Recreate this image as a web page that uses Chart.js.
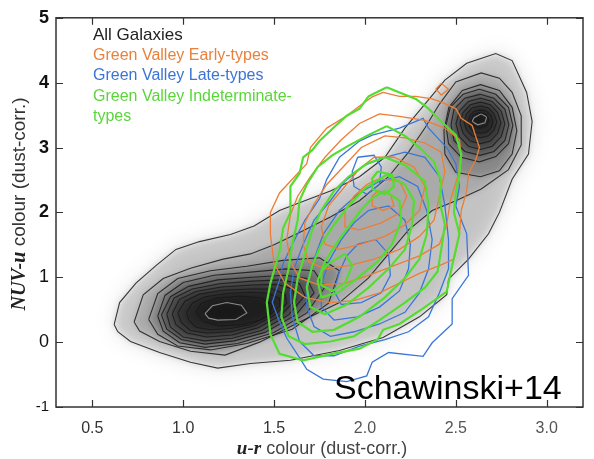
<!DOCTYPE html>
<html>
<head>
<meta charset="utf-8">
<script src="https://cdn.jsdelivr.net/npm/chart.js@4.4.1/dist/chart.umd.min.js"></script>
<style>
  html, body { margin: 0; padding: 0; background: #fff; }
</style>
</head>
<body>
<canvas id="chart" width="594" height="459"></canvas>
<script>
const xTicks = [0.5, 1.0, 1.5, 2.0, 2.5, 3.0];
const xTickLabels = ['0.5', '1.0', '1.5', '2.0', '2.5', '3.0'];
const yTicks = [-1, 0, 1, 2, 3, 4, 5];

const legendLines = [
    ['All Galaxies', '#222222'],
    ['Green Valley Early-types', '#e9803c'],
    ['Green Valley Late-types', '#3c74d6'],
    ['Green Valley Indeterminate-', '#5ad63a'],
    ['types', '#5ad63a'],
];

// all galaxies: shared envelopes, blue-cloud rings, red-sequence rings
const allGalaxyLevels = [
    [[0.62,0.27],[0.65,0.61],[0.74,0.91],[0.85,1.18],[0.96,1.43],[1.09,1.55],[1.26,1.66],[1.39,1.79],[1.53,2.03],[1.64,2.15],[1.81,2.33],[1.97,2.55],[2.11,2.85],[2.22,3.30],[2.33,3.67],[2.44,4.04],[2.56,4.30],[2.72,4.45],[2.81,4.34],[2.89,3.85],[2.92,3.40],[2.90,2.90],[2.81,2.51],[2.74,2.00],[2.68,1.67],[2.57,1.28],[2.46,0.97],[2.45,0.73],[2.30,0.39],[2.10,0.07],[1.86,-0.13],[1.59,-0.28],[1.37,-0.33],[1.19,-0.40],[1.04,-0.31],[0.87,-0.16],[0.71,0.01],[0.64,0.16]],
    [[0.73,0.31],[0.78,0.73],[0.89,0.98],[1.04,1.14],[1.22,1.28],[1.37,1.36],[1.50,1.50],[1.64,1.69],[1.81,1.93],[1.97,2.18],[2.13,2.55],[2.24,2.93],[2.33,3.30],[2.41,3.67],[2.50,4.01],[2.64,4.15],[2.74,4.07],[2.81,3.85],[2.86,3.49],[2.86,3.04],[2.79,2.66],[2.64,2.36],[2.50,2.18],[2.37,2.03],[2.24,1.73],[2.13,1.36],[2.02,0.99],[1.86,0.61],[1.64,0.31],[1.42,0.00],[1.23,-0.20],[1.04,-0.14],[0.87,0.01],[0.76,0.17]],
    [[0.81,0.35],[0.86,0.75],[0.97,0.98],[1.15,1.10],[1.35,1.17],[1.55,1.26],[1.75,1.30],[1.86,1.10],[1.80,0.60],[1.60,0.20],[1.35,-0.02],[1.15,-0.12],[0.97,-0.06],[0.86,0.12]],
    [[0.86,0.40],[0.90,0.72],[1.00,0.92],[1.17,1.03],[1.37,1.08],[1.57,1.13],[1.72,1.10],[1.78,0.85],[1.68,0.45],[1.50,0.15],[1.30,-0.02],[1.12,-0.08],[0.98,-0.01],[0.89,0.17]],
    [[0.88,0.42],[0.93,0.70],[1.03,0.86],[1.19,0.96],[1.38,1.00],[1.56,1.03],[1.68,0.98],[1.72,0.76],[1.62,0.42],[1.45,0.15],[1.28,0.02],[1.12,-0.03],[0.99,0.04],[0.91,0.20]],
    [[0.91,0.43],[0.95,0.68],[1.05,0.82],[1.20,0.90],[1.38,0.94],[1.54,0.96],[1.64,0.90],[1.67,0.72],[1.58,0.42],[1.43,0.18],[1.27,0.06],[1.12,0.02],[1.00,0.08],[0.93,0.23]],
    [[0.94,0.44],[0.98,0.66],[1.07,0.78],[1.21,0.85],[1.38,0.88],[1.52,0.89],[1.60,0.82],[1.62,0.66],[1.54,0.42],[1.41,0.22],[1.27,0.11],[1.13,0.08],[1.02,0.14],[0.96,0.27]],
    [[0.97,0.45],[1.01,0.63],[1.09,0.74],[1.22,0.80],[1.37,0.82],[1.49,0.82],[1.56,0.74],[1.57,0.60],[1.50,0.41],[1.39,0.25],[1.26,0.16],[1.13,0.14],[1.04,0.18],[0.99,0.30]],
    [[1.02,0.46],[1.05,0.60],[1.12,0.70],[1.24,0.75],[1.37,0.77],[1.47,0.75],[1.53,0.67],[1.53,0.55],[1.47,0.40],[1.37,0.27],[1.26,0.21],[1.15,0.19],[1.07,0.23],[1.03,0.34]],
    [[1.07,0.47],[1.10,0.60],[1.19,0.68],[1.32,0.71],[1.43,0.68],[1.49,0.58],[1.48,0.45],[1.42,0.34],[1.32,0.27],[1.20,0.25],[1.11,0.32]],
    [[1.12,0.44],[1.16,0.56],[1.24,0.61],[1.32,0.57],[1.35,0.45],[1.29,0.35],[1.19,0.34],[1.14,0.37]],
    [[2.636,3.97],[2.74,3.88],[2.81,3.62],[2.836,3.26],[2.81,2.90],[2.74,2.64],[2.636,2.55],[2.50,2.62],[2.44,2.90],[2.435,3.26],[2.462,3.62],[2.536,3.88]],
    [[2.63,3.90],[2.72,3.82],[2.79,3.62],[2.814,3.34],[2.79,3.06],[2.72,2.86],[2.63,2.78],[2.53,2.85],[2.46,3.06],[2.446,3.34],[2.47,3.62],[2.54,3.82]],
    [[2.633,3.82],[2.71,3.76],[2.77,3.59],[2.792,3.35],[2.77,3.11],[2.71,2.94],[2.633,2.88],[2.55,2.94],[2.49,3.11],[2.474,3.35],[2.49,3.59],[2.55,3.76]],
    [[2.636,3.76],[2.70,3.71],[2.75,3.56],[2.77,3.365],[2.75,3.17],[2.70,3.02],[2.636,2.97],[2.57,3.02],[2.52,3.17],[2.501,3.365],[2.52,3.56],[2.57,3.71]],
    [[2.636,3.70],[2.69,3.66],[2.73,3.54],[2.748,3.38],[2.73,3.22],[2.69,3.10],[2.636,3.06],[2.58,3.10],[2.54,3.22],[2.523,3.38],[2.54,3.54],[2.58,3.66]],
    [[2.636,3.64],[2.68,3.61],[2.71,3.52],[2.726,3.395],[2.71,3.27],[2.68,3.18],[2.636,3.15],[2.59,3.18],[2.56,3.27],[2.545,3.395],[2.56,3.52],[2.59,3.61]],
    [[2.636,3.58],[2.67,3.56],[2.695,3.49],[2.704,3.40],[2.695,3.31],[2.67,3.24],[2.636,3.22],[2.60,3.24],[2.577,3.31],[2.567,3.40],[2.577,3.49],[2.60,3.56]],
    [[2.633,3.54],[2.668,3.505],[2.682,3.42],[2.668,3.335],[2.633,3.30],[2.598,3.335],[2.583,3.42],[2.598,3.505]],
    [[2.60,3.46],[2.64,3.52],[2.67,3.47],[2.66,3.38],[2.62,3.35],[2.59,3.40]],
];
const paleRings = [10, 19];

const earlyTypeLevels = [
    [[2.10,3.85],[2.19,3.79],[2.28,3.79],[2.37,3.75],[2.42,3.70],[2.50,3.60],[2.53,3.45],[2.59,3.34],[2.63,3.00],[2.61,2.81],[2.57,2.60],[2.56,2.33],[2.53,2.03],[2.52,1.66],[2.49,1.28],[2.41,1.18],[2.30,1.06],[2.19,0.91],[2.08,0.76],[1.94,0.64],[1.81,0.61],[1.67,0.69],[1.56,0.91],[1.50,1.21],[1.48,1.66],[1.48,2.00],[1.53,2.30],[1.60,2.51],[1.68,2.75],[1.70,3.00],[1.79,3.30],[1.90,3.49],[1.97,3.64],[2.04,3.78]],
    [[2.08,3.52],[2.19,3.48],[2.33,3.42],[2.44,3.30],[2.52,3.12],[2.53,2.85],[2.51,2.55],[2.47,2.18],[2.45,1.81],[2.41,1.51],[2.30,1.33],[2.16,1.18],[2.02,1.03],[1.89,0.91],[1.75,0.88],[1.64,0.99],[1.59,1.24],[1.57,1.58],[1.59,1.96],[1.63,2.25],[1.70,2.55],[1.78,2.85],[1.87,3.12],[1.97,3.37]],
    [[2.11,3.18],[2.22,3.15],[2.33,3.07],[2.42,2.93],[2.44,2.63],[2.41,2.25],[2.38,1.88],[2.30,1.63],[2.19,1.43],[2.05,1.28],[1.91,1.18],[1.78,1.13],[1.69,1.24],[1.66,1.51],[1.67,1.84],[1.72,2.13],[1.79,2.43],[1.89,2.73],[1.98,3.00]],
    [[2.05,2.85],[2.16,2.85],[2.27,2.70],[2.33,2.40],[2.30,2.03],[2.22,1.81],[2.11,1.63],[1.98,1.51],[1.86,1.43],[1.78,1.51],[1.76,1.78],[1.80,2.10],[1.89,2.40],[1.97,2.67]],
    [[2.08,2.52],[2.19,2.48],[2.23,2.25],[2.19,1.99],[2.09,1.84],[1.97,1.73],[1.89,1.78],[1.89,2.03],[1.94,2.25],[2.01,2.43]],
    [[2.07,2.33],[2.14,2.28],[2.16,2.10],[2.10,2.03],[2.04,2.10],[2.04,2.25]],
    [[2.39,3.90],[2.42,3.99],[2.46,3.90],[2.42,3.81]],
];

const lateTypeLevels = [
    [[2.04,3.19],[2.12,3.25],[2.19,3.30],[2.32,3.45],[2.35,3.30],[2.45,3.00],[2.50,2.75],[2.52,2.40],[2.50,2.10],[2.56,1.67],[2.57,1.03],[2.48,0.67],[2.48,0.28],[2.37,-0.01],[2.32,-0.22],[2.13,-0.16],[2.04,-0.31],[2.01,-0.52],[1.90,-0.61],[1.77,-0.57],[1.68,-0.42],[1.64,-0.24],[1.57,0.06],[1.53,0.31],[1.49,0.61],[1.53,0.96],[1.55,1.21],[1.60,1.51],[1.67,1.88],[1.75,2.21],[1.79,2.51],[1.86,2.85],[1.97,3.10]],
    [[2.11,2.85],[2.22,2.93],[2.33,2.85],[2.41,2.55],[2.44,2.10],[2.46,1.58],[2.46,1.13],[2.41,0.76],[2.35,0.39],[2.24,0.16],[2.11,0.04],[1.97,-0.06],[1.83,-0.21],[1.72,-0.21],[1.64,0.01],[1.60,0.39],[1.59,0.76],[1.61,1.13],[1.66,1.51],[1.72,1.88],[1.81,2.18],[1.89,2.48],[2.00,2.73]],
    [[2.08,2.48],[2.19,2.55],[2.29,2.40],[2.34,2.03],[2.37,1.58],[2.35,1.13],[2.30,0.76],[2.22,0.46],[2.08,0.28],[1.94,0.16],[1.81,0.09],[1.72,0.24],[1.68,0.54],[1.68,0.91],[1.72,1.28],[1.77,1.66],[1.86,2.03],[1.96,2.28]],
    [[2.02,2.03],[2.13,2.10],[2.22,1.88],[2.25,1.51],[2.24,1.13],[2.19,0.79],[2.08,0.54],[1.96,0.39],[1.83,0.34],[1.76,0.54],[1.76,0.88],[1.80,1.24],[1.87,1.58],[1.94,1.84]],
    [[1.96,1.51],[2.06,1.58],[2.13,1.36],[2.14,1.03],[2.09,0.76],[1.98,0.61],[1.87,0.58],[1.83,0.79],[1.86,1.09],[1.90,1.33]],
    [[1.96,2.85],[2.05,2.88],[2.09,2.70],[2.08,2.43],[2.01,2.28],[1.94,2.40],[1.93,2.63]],
];

const indeterminateLevels = [
    [[2.12,3.93],[2.19,3.85],[2.28,3.75],[2.35,3.60],[2.42,3.40],[2.50,3.19],[2.53,2.90],[2.52,2.60],[2.50,2.30],[2.49,2.00],[2.52,1.67],[2.48,1.18],[2.45,0.78],[2.32,0.52],[2.19,0.28],[2.10,0.19],[2.07,0.04],[1.97,-0.10],[1.82,-0.18],[1.66,-0.28],[1.53,-0.18],[1.48,0.12],[1.46,0.61],[1.48,0.91],[1.53,1.40],[1.55,1.76],[1.59,2.00],[1.59,2.40],[1.64,2.60],[1.66,2.85],[1.71,2.96],[1.75,3.10],[1.84,3.34],[1.90,3.49],[1.97,3.60],[2.02,3.79]],
    [[2.12,3.33],[2.22,3.18],[2.30,3.00],[2.38,2.78],[2.42,2.48],[2.41,2.18],[2.44,1.81],[2.42,1.43],[2.40,1.09],[2.33,0.84],[2.22,0.61],[2.08,0.34],[1.94,0.09],[1.81,0.01],[1.67,-0.03],[1.58,0.09],[1.54,0.39],[1.55,0.76],[1.58,1.13],[1.60,1.51],[1.63,1.88],[1.64,2.18],[1.68,2.43],[1.74,2.70],[1.82,2.88],[1.91,3.03],[2.01,3.18]],
    [[2.11,2.85],[2.22,2.73],[2.33,2.48],[2.35,2.10],[2.34,1.66],[2.30,1.28],[2.22,0.99],[2.11,0.69],[1.97,0.39],[1.83,0.19],[1.71,0.16],[1.63,0.31],[1.61,0.61],[1.63,0.99],[1.67,1.36],[1.71,1.73],[1.76,2.03],[1.83,2.33],[1.91,2.55],[2.01,2.75]],
    [[2.12,2.58],[2.22,2.43],[2.27,2.18],[2.26,1.81],[2.22,1.43],[2.13,1.13],[2.02,0.84],[1.90,0.58],[1.78,0.43],[1.70,0.54],[1.68,0.84],[1.71,1.18],[1.76,1.51],[1.83,1.81],[1.91,2.10],[2.00,2.37]],
    [[2.11,2.33],[2.19,2.18],[2.20,1.88],[2.15,1.51],[2.07,1.24],[1.96,0.99],[1.85,0.76],[1.76,0.69],[1.74,0.94],[1.78,1.24],[1.84,1.51],[1.91,1.78],[1.98,2.04],[2.04,2.22]],
    [[1.80,1.21],[1.89,1.36],[1.93,1.18],[1.89,0.91],[1.82,0.79],[1.76,0.88],[1.76,1.09]],
    [[2.07,2.63],[2.15,2.58],[2.16,2.40],[2.11,2.28],[2.04,2.36],[2.04,2.52]],
];

function closed(points) {
    const d = points.map(([x, y]) => ({ x, y }));
    d.push(d[0]);
    return d;
}

function contourSet(levels, color, width, order) {
    return levels.map((ring, i) => ({
        data: closed(ring),
        showLine: true,
        borderColor: typeof color === 'function' ? color(i) : color,
        borderWidth: width,
        pointRadius: 0,
        tension: 0,
        fill: false,
        order: order,
    }));
}

function tracePath(ctx, ring, x, y) {
    ctx.beginPath();
    ring.forEach(([vx, vy], j) => {
        const px = x.getPixelForValue(vx);
        const py = y.getPixelForValue(vy);
        if (j === 0) ctx.moveTo(px, py); else ctx.lineTo(px, py);
    });
    ctx.closePath();
}

// grey density shading under the black contours
const shadePlugin = {
    id: 'shade',
    beforeDatasetsDraw(chart) {
        const { ctx, chartArea: a, scales: { x, y } } = chart;
        ctx.save();
        ctx.beginPath();
        ctx.rect(a.left, a.top, a.width, a.height);
        ctx.clip();
        ctx.filter = 'blur(10px)';
        tracePath(ctx, allGalaxyLevels[0], x, y);
        ctx.fillStyle = 'rgba(0,0,0,0.12)';
        ctx.fill();
        ctx.filter = 'blur(3px)';
        allGalaxyLevels.forEach((ring, i) => {
            tracePath(ctx, ring, x, y);
            ctx.fillStyle = `rgba(0,0,0,${i < 2 ? 0.13 : 0.2})`;
            ctx.fill();
        });
        ctx.restore();
    },
};

// frame, inward ticks, axis titles, key and credit
const decorPlugin = {
    id: 'decor',
    afterDraw(chart) {
        const { ctx, chartArea: a, scales: { x, y } } = chart;
        ctx.save();
        ctx.strokeStyle = '#333';
        ctx.lineWidth = 1.5;
        ctx.strokeRect(a.left, a.top, a.width, a.height);
        ctx.lineWidth = 1.2;
        ctx.beginPath();
        xTicks.forEach(v => {
            const px = Math.round(x.getPixelForValue(v)) + 0.5;
            ctx.moveTo(px, a.bottom); ctx.lineTo(px, a.bottom - 7);
            ctx.moveTo(px, a.top); ctx.lineTo(px, a.top + 7);
        });
        yTicks.forEach(v => {
            const py = Math.round(y.getPixelForValue(v)) + 0.5;
            ctx.moveTo(a.left, py); ctx.lineTo(a.left + 7, py);
            ctx.moveTo(a.right, py); ctx.lineTo(a.right - 7, py);
        });
        ctx.stroke();

        // x title
        const serif = 'italic bold 19px "Liberation Serif", "DejaVu Serif", serif';
        const sans = '18px "Liberation Sans", Arial, sans-serif';
        ctx.textBaseline = 'alphabetic';
        ctx.textAlign = 'left';
        ctx.font = serif;
        const w1 = ctx.measureText('u-r').width;
        ctx.font = sans;
        const w2 = ctx.measureText(' colour (dust-corr.)').width;
        const sx = 322 - (w1 + w2) / 2;
        ctx.font = serif; ctx.fillStyle = '#222';
        ctx.fillText('u-r', sx, 454);
        ctx.font = sans; ctx.fillStyle = '#444';
        ctx.fillText(' colour (dust-corr.)', sx + w1, 454);

        // y title
        const ySerif = 'italic bold 20px "Liberation Serif", "DejaVu Serif", serif';
        const ySans = '19px "Liberation Sans", Arial, sans-serif';
        ctx.font = ySerif;
        const h1 = ctx.measureText('NUV-u').width;
        ctx.font = ySans;
        const h2 = ctx.measureText(' colour (dust-corr.)').width;
        ctx.translate(25, 204 + (h1 + h2) / 2);
        ctx.rotate(-Math.PI / 2);
        ctx.font = ySerif; ctx.fillStyle = '#222';
        ctx.fillText('NUV-u', 0, 0);
        ctx.font = ySans; ctx.fillStyle = '#333';
        ctx.fillText(' colour (dust-corr.)', h1, 0);
        ctx.setTransform(1, 0, 0, 1, 0, 0);

        // key
        legendLines.forEach(([text, color], i) => {
            ctx.font = (i === 0 ? '17px' : '16px') + ' "Liberation Sans", Arial, sans-serif';
            ctx.fillStyle = color;
            ctx.fillText(text, 93, 40 + i * 20.2);
        });

        ctx.font = '34px "Liberation Sans", Arial, sans-serif';
        ctx.fillStyle = '#000';
        ctx.fillText('Schawinski+14', 334, 399);
        ctx.restore();
    },
};

const datasets = [
    ...contourSet(indeterminateLevels, '#55dc30', 2.2, 1),
    ...contourSet(earlyTypeLevels, '#ec7d34', 1.3, 2),
    ...contourSet(lateTypeLevels, '#3a76d8', 1.3, 3),
    ...contourSet(allGalaxyLevels, i => paleRings.includes(i) ? '#8a8a8a' : 'rgba(25,25,25,0.85)', 1.1, 4),
];

new Chart(document.getElementById('chart'), {
    type: 'scatter',
    data: { datasets },
    options: {
        responsive: false,
        animation: false,
        layout: { padding: { top: 6, right: 11, left: 0, bottom: 0 } },
        plugins: { legend: { display: false }, tooltip: { enabled: false } },
        scales: {
            x: {
                type: 'linear',
                min: 0.3,
                max: 3.2,
                afterBuildTicks: s => { s.ticks = xTicks.map(v => ({ value: v })); },
                afterFit: s => { s.height = 52; },
                grid: { display: false, drawTicks: false },
                border: { display: false },
                ticks: {
                    padding: 12,
                    autoSkip: false,
                    maxRotation: 0,
                    callback: v => xTickLabels[xTicks.indexOf(v)],
                    color: ctx => ctx.tick && ctx.tick.value < 1.8 ? '#333' : '#555',
                    font: { family: '"Liberation Sans", Arial, sans-serif', size: 16 },
                },
            },
            y: {
                type: 'linear',
                min: -1,
                max: 5,
                afterBuildTicks: s => { s.ticks = yTicks.map(v => ({ value: v })); },
                afterFit: s => { s.width = 56; },
                grid: { display: false, drawTicks: false },
                border: { display: false },
                ticks: {
                    padding: 7,
                    color: '#111',
                    font: ctx => {
                        const v = ctx.tick ? ctx.tick.value : 0;
                        if (v >= 2) return { family: '"Liberation Sans", Arial, sans-serif', size: 18, weight: 'bold' };
                        if (v < 0) return { family: '"Liberation Sans", Arial, sans-serif', size: 15 };
                        return { family: '"Liberation Sans", Arial, sans-serif', size: 18 };
                    },
                },
            },
        },
    },
    plugins: [shadePlugin, decorPlugin],
});
</script>
</body>
</html>
